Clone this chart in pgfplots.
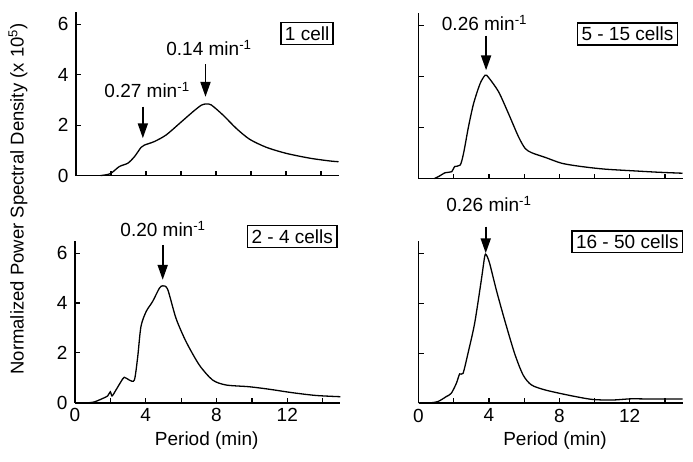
\documentclass[border=0pt]{standalone}
\usepackage{fontspec}
\setmainfont{Liberation Sans}
\usepackage{pgfplots}
\pgfplotsset{compat=1.18}
\usetikzlibrary{arrows.meta}

\pgfplotsset{
  psd/.style={
    scale only axis, xmin=0, xmax=15, ymin=0, ymax=6.5,
    axis x line=bottom, axis y line=left,
    axis line style={-, line width=1.7pt},
    xtick={0,2,...,14}, ytick={0,2,4,6},
    xticklabels={0,,4,,8,,12,},
    tick align=inside, major tick length=5pt,
    tick style={line width=1.2pt, black},
    tick label style={font=\fontsize{19}{22}\selectfont},
    xticklabel style={yshift=-2pt},
    yticklabel style={xshift=-4pt},
    /pgf/number format/assume math mode=true,
    clip=false,
  },
  curve/.style={black, line width=1.3pt, smooth, tension=0.45},
}
\tikzset{
  cellbox/.style={draw, line width=1.7pt, inner xsep=4pt, inner ysep=4pt,
    anchor=north east, font=\fontsize{19}{22}\selectfont},
  freq/.style={anchor=base, font=\fontsize{19}{22}\selectfont},
  pk/.style={line width=1.9pt, -{Triangle[length=15pt,width=10pt]}},
}

\begin{document}
\begin{tikzpicture}
\path[use as bounding box] (0,0) rectangle (693pt,462pt);

% 1 cell
\begin{axis}[psd, width=262.5pt, height=164pt, at={(76pt,286.4pt)}, anchor=south west,
  xticklabels={}]
  \addplot[curve] coordinates {(1.4,0) (1.7,0.03) (2.0,0.09) (2.48,0.36) (2.96,0.49)
    (3.34,0.75) (3.72,1.12) (3.91,1.21) (4.48,1.35) (5.15,1.61) (5.92,2.07) (6.68,2.53)
    (7.16,2.79) (7.44,2.84) (7.73,2.80) (8.4,2.40) (9.16,1.87) (9.92,1.44) (10.88,1.12)
    (12.02,0.88) (13.36,0.69) (14.5,0.58) (15.0,0.55)};
  \draw[pk] (axis cs:3.82,2.73) -- (axis cs:3.82,1.48);
  \draw[pk] (axis cs:7.4,4.42) -- (axis cs:7.4,3.12);
  \node[freq] at (axis cs:4.06,3.09) {0.27 min\textsuperscript{-1}};
  \node[freq] at (axis cs:7.6,4.74) {0.14 min\textsuperscript{-1}};
  \node[cellbox] at (axis cs:14.75,6.1) {1 cell};
\end{axis}

% 5 - 15 cells
\begin{axis}[psd, width=264pt, height=166pt, at={(418.5pt,283.4pt)}, anchor=south west,
  xticklabels={}, yticklabels={}]
  \addplot[curve] coordinates {(0.9,0) (1.14,0.08) (1.52,0.23) (1.89,0.27) (2.05,0.47)
    (2.37,0.53) (2.56,0.99) (2.84,2.03) (3.13,2.94) (3.50,3.72) (3.79,4.05) (3.98,3.96)
    (4.55,3.40) (5.11,2.55) (5.68,1.64) (6.06,1.18) (6.44,1.01) (7.2,0.83) (8.14,0.60)
    (9.28,0.47) (10.6,0.37) (12.3,0.30) (13.6,0.25) (15.0,0.21)};
  \draw[pk] (axis cs:3.84,5.6) -- (axis cs:3.84,4.24);
  \node[freq] at (axis cs:3.75,5.8) {0.26 min\textsuperscript{-1}};
  \node[cellbox] at (axis cs:14.76,6.13) {5 - 15 cells};
\end{axis}

% 2 - 4 cells
\begin{axis}[psd, width=265.5pt, height=162pt, at={(74.9pt,59.3pt)}, anchor=south west]
  \addplot[curve] coordinates {(0.8,0) (1.1,0.03) (1.57,0.17) (1.85,0.27) (2.0,0.44)
    (2.1,0.27) (2.32,0.51) (2.6,0.84) (2.79,1.02) (3.07,0.91) (3.36,0.91) (3.55,1.85)
    (3.73,3.05) (4.02,3.65) (4.39,4.06) (4.77,4.59) (4.96,4.69) (5.24,4.55) (5.71,3.39)
    (6.28,2.45) (7.03,1.51) (7.78,0.91) (8.54,0.71) (9.85,0.64) (10.98,0.54) (12.3,0.40)
    (13.62,0.29) (15.0,0.24)};
  \draw[pk] (axis cs:4.96,6.33) -- (axis cs:4.96,4.93);
  \node[freq] at (axis cs:4.98,6.67) {0.20 min\textsuperscript{-1}};
  \node[cellbox] at (axis cs:14.85,7.14) {2 - 4 cells};
\end{axis}

% 16 - 50 cells
\begin{axis}[psd, width=264pt, height=162pt, at={(418.5pt,58.7pt)}, anchor=south west,
  yticklabels={}]
  \addplot[curve] coordinates {(0.5,0) (1.1,0.07) (1.58,0.27) (1.86,0.40) (2.15,0.80)
    (2.34,1.18) (2.53,1.2) (2.81,2.0) (3.19,3.21) (3.57,4.95) (3.76,5.89) (3.85,5.96)
    (4.04,5.62) (4.42,4.55) (4.89,3.35) (5.46,2.0) (5.94,1.14) (6.41,0.74) (7.17,0.54)
    (8.49,0.33) (9.82,0.16) (10.96,0.13) (12.1,0.18) (13.23,0.17) (15.0,0.17)};
  \draw[pk] (axis cs:3.82,7.09) -- (axis cs:3.82,6.02);
  \node[freq] at (axis cs:4.0,7.69) {0.26 min\textsuperscript{-1}};
  \node[cellbox] at (axis cs:15.05,6.96) {16 - 50 cells};
\end{axis}

\node[rotate=90, font=\fontsize{18.5}{21}\selectfont] at (18pt,263pt)
  {Normalized Power Spectral Density (x 10\textsuperscript{5})};
\node[font=\fontsize{19}{22}\selectfont] at (206.7pt,21pt) {Period (min)};
\node[font=\fontsize{19}{22}\selectfont] at (555pt,21pt) {Period (min)};
\end{tikzpicture}
\end{document}
